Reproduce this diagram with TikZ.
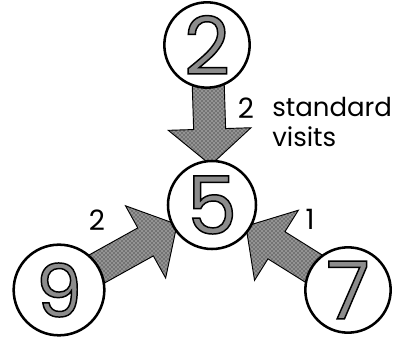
\documentclass[tikz,border=0pt]{standalone}
\usepackage{fontspec}
\setmainfont{Poppins}
\usepackage{tikz}
\usetikzlibrary{calc,patterns,backgrounds}

\newcommand{\outlinedigit}[1]{{\color{black!45}\special{pdf:literal direct 2 Tr 1.1 w 0 G}#1\special{pdf:literal direct 0 Tr}}}
\newcommand{\visitarrow}[2]{%
  \coordinate (#1#2tip) at ($(#2)!30pt!(#1)$);
  \coordinate (#1#2head) at ($(#1#2tip)!27pt!(#1)$);
  \path[flowarrow] ($(#1)!12pt!90:(#2)$) -- ($(#1#2head)!12pt!90:(#2)$) -- ($(#1#2head)!31pt!90:(#2)$) -- (#1#2tip)
    -- ($(#1#2head)!31pt!-90:(#2)$) -- ($(#1#2head)!12pt!-90:(#2)$) -- ($(#1)!12pt!-90:(#2)$) -- cycle;
}

\begin{document}
\begin{tikzpicture}[
    x=0.75pt, y=-0.75pt,
    visitnode/.style={circle, draw=black, line width=1.9pt, fill=white, inner sep=0pt, minimum size=64pt, font=\fontsize{60}{60}\selectfont},
    flowarrow/.style={draw=black, line width=0.7pt, preaction={fill=black!55}, pattern=crosshatch dots, pattern color=white},
    countlabel/.style={font=\fontsize{21}{22.5}\selectfont, inner sep=0pt}
]
\useasboundingbox (0,0) rectangle (404,345);

\node[visitnode] (two) at (207,45) {\outlinedigit{2}};
\node[visitnode, minimum size=66pt] (five) at (212,205) {\outlinedigit{5}};
\node[visitnode, minimum size=68pt, font=\fontsize{55}{55}\selectfont] (nine) at (59,290) {\outlinedigit{9}};
\node[visitnode] (seven) at (348,290) {\outlinedigit{7}};

\begin{scope}[on background layer]
\visitarrow{two}{five}
\visitarrow{nine}{five}
\visitarrow{seven}{five}
\end{scope}

\node[countlabel] (twolabel) at (246,108) {2};
\node[countlabel, font=\fontsize{19.5}{22.5}\selectfont, align=left, anchor=north west] (visitslabel) at (272,97) {standard\\visits};
\node[countlabel] (ninelabel) at (97,220) {2};
\node[countlabel] (sevenlabel) at (310,219) {1};
\end{tikzpicture}
\end{document}
